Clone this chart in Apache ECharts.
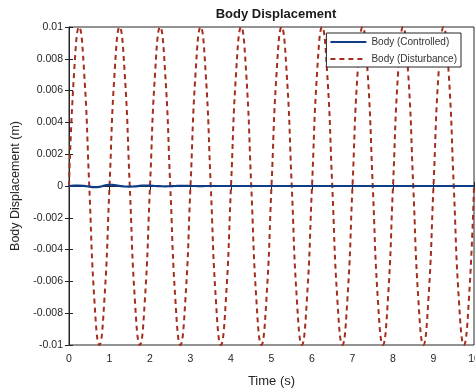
<!DOCTYPE html>
<html>
<head>
<meta charset="utf-8">
<script src="https://cdn.jsdelivr.net/npm/echarts@6/dist/echarts.min.js"></script>
<style>
html,body{margin:0;padding:0;background:#fff;}
#chart{width:475px;height:389px;}
</style>
</head>
<body>
<div id="chart"></div>
<script>
const titleText = 'Body Displacement';
const xName = 'Time (s)';
const yName = 'Body Displacement (m)';
const seriesNames = ['Body (Controlled)', 'Body (Disturbance)'];

const time = [
  0, 0.125, 0.25, 0.375, 0.5, 0.625, 0.75, 0.875,
  1, 1.125, 1.25, 1.375, 1.5, 1.625, 1.75, 1.875,
  2, 2.125, 2.25, 2.375, 2.5, 2.625, 2.75, 2.875,
  3, 3.125, 3.25, 3.375, 3.5, 3.625, 3.75, 3.875,
  4, 4.125, 4.25, 4.375, 4.5, 4.625, 4.75, 4.875,
  5, 5.125, 5.25, 5.375, 5.5, 5.625, 5.75, 5.875,
  6, 6.125, 6.25, 6.375, 6.5, 6.625, 6.75, 6.875,
  7, 7.125, 7.25, 7.375, 7.5, 7.625, 7.75, 7.875,
  8, 8.125, 8.25, 8.375, 8.5, 8.625, 8.75, 8.875,
  9, 9.125, 9.25, 9.375, 9.5, 9.625, 9.75, 9.875,
  10
];

const disturbance = [
  0, 0.0071, 0.01, 0.0071, 0, -0.0071, -0.01, -0.0071,
  0, 0.0071, 0.01, 0.0071, 0, -0.0071, -0.01, -0.0071,
  0, 0.0071, 0.01, 0.0071, 0, -0.0071, -0.01, -0.0071,
  0, 0.0071, 0.01, 0.0071, 0, -0.0071, -0.01, -0.0071,
  0, 0.0071, 0.01, 0.0071, 0, -0.0071, -0.01, -0.0071,
  0, 0.0071, 0.01, 0.0071, 0, -0.0071, -0.01, -0.0071,
  0, 0.0071, 0.01, 0.0071, 0, -0.0071, -0.01, -0.0071,
  0, 0.0071, 0.01, 0.0071, 0, -0.0071, -0.01, -0.0071,
  0, 0.0071, 0.01, 0.0071, 0, -0.0071, -0.01, -0.0071,
  0, 0.0071, 0.01, 0.0071, 0, -0.0071, -0.01, -0.0071,
  0
];

const controlled = [
  0, 0.00002, 0.00003, 0.00001, -0.00004, -0.00007, -0.00005, 0.00002,
  0.00008, 0.00005, 0.00001, -0.00003, -0.00004, -0.00002, 0.00001, 0.00003,
  0.00002, 0, -0.00001, -0.00002, -0.00001, 0, 0.00001, 0.00001,
  0, 0, -0.00001, 0, 0, 0, 0, 0,
  0, 0, 0, 0, 0, 0, 0, 0,
  0, 0, 0, 0, 0, 0, 0, 0,
  0, 0, 0, 0, 0, 0, 0, 0,
  0, 0, 0, 0, 0, 0, 0, 0,
  0, 0, 0, 0, 0, 0, 0, 0,
  0, 0, 0, 0, 0, 0, 0, 0,
  0
];

const xTicks = [0, 1, 2, 3, 4, 5, 6, 7, 8, 9, 10];
const yTicks = [-0.01, -0.008, -0.006, -0.004, -0.002, 0, 0.002, 0.004, 0.006, 0.008, 0.01];

const axisColor = '#262626';
const font = 'Liberation Sans, Arial, Helvetica, sans-serif';

const chart = echarts.init(document.getElementById('chart'), null, {renderer: 'canvas'});

const pairs = (ys) => time.map((t, i) => [t, ys[i]]);

const option = {
  animation: false,
  backgroundColor: '#ffffff',
  title: {
    text: titleText,
    left: 271,
    textAlign: 'center',
    top: 3,
    textStyle: {fontFamily: font, fontSize: 13, fontWeight: 'bold', color: '#1a1a1a'}
  },
  legend: {
    orient: 'vertical',
    right: 14,
    top: 33,
    backgroundColor: '#ffffff',
    borderColor: axisColor,
    borderWidth: 1,
    borderRadius: 0,
    padding: [4, 4, 3, 3],
    itemWidth: 36,
    itemHeight: 2,
    itemGap: 7,
    itemStyle: {opacity: 0},
    textStyle: {fontFamily: font, fontSize: 10, color: '#333'},
    data: seriesNames
  },
  grid: {
    left: 69, right: 1, top: 27, bottom: 44,
    show: true, borderColor: axisColor, borderWidth: 1,
    containLabel: false,
    outerBoundsMode: 'none'
  },
  xAxis: [{
    type: 'value',
    min: xTicks[0], max: xTicks[xTicks.length - 1], interval: 1,
    name: xName, nameLocation: 'middle', nameGap: 30,
    nameTextStyle: {fontFamily: font, fontSize: 13, color: '#262626'},
    axisLine: {show: true, lineStyle: {color: axisColor}},
    axisTick: {show: true, inside: true, length: 4, lineStyle: {color: axisColor}},
    axisLabel: {fontFamily: font, fontSize: 10.5, color: '#262626', margin: 9, hideOverlap: false},
    splitLine: {show: false}
  }, {
    type: 'value', position: 'top',
    min: xTicks[0], max: xTicks[xTicks.length - 1], interval: 1,
    axisLine: {show: false},
    axisTick: {show: true, inside: true, length: 4, lineStyle: {color: axisColor}},
    axisLabel: {show: false},
    splitLine: {show: false}
  }],
  yAxis: [{
    type: 'value',
    min: yTicks[0], max: yTicks[yTicks.length - 1], interval: 0.002,
    name: yName, nameLocation: 'middle', nameGap: 47, nameRotate: 90,
    nameTextStyle: {fontFamily: font, fontSize: 12.5, color: '#262626'},
    axisLine: {show: true, lineStyle: {color: axisColor}},
    axisTick: {show: true, inside: true, length: 4, lineStyle: {color: axisColor}},
    axisLabel: {
      fontFamily: font, fontSize: 10.5, color: '#262626', margin: 6,
      formatter: (v) => String(Number(v.toFixed(3)))
    },
    splitLine: {show: false}
  }, {
    type: 'value', position: 'right',
    min: yTicks[0], max: yTicks[yTicks.length - 1], interval: 0.002,
    axisLine: {show: false},
    axisTick: {show: true, inside: true, length: 4, lineStyle: {color: axisColor}},
    axisLabel: {show: false},
    splitLine: {show: false}
  }],
  series: [{
    name: seriesNames[1],
    type: 'line',
    data: pairs(disturbance),
    smooth: true,
    symbol: 'none',
    clip: true,
    lineStyle: {color: '#a32e1e', width: 2, type: [5, 4]},
    itemStyle: {color: '#a32e1e'},
    z: 2
  }, {
    name: seriesNames[0],
    type: 'line',
    data: pairs(controlled),
    smooth: true,
    symbol: 'none',
    clip: true,
    lineStyle: {color: '#0f3c85', width: 2.2, type: 'solid'},
    itemStyle: {color: '#0f3c85'},
    z: 3
  }]
};

chart.setOption(option);
</script>
</body>
</html>
